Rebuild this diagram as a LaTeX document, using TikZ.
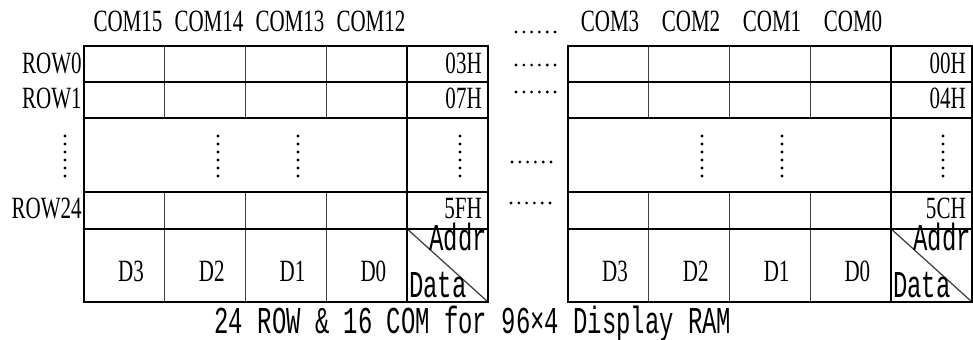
\documentclass[tikz,border=0pt]{standalone}
\usepackage{fontspec}
\usepackage{graphicx}
\setmainfont{Liberation Serif}
\newfontfamily\capfont{Liberation Mono}
\newcommand{\nar}[1]{\scalebox{0.68}[1]{#1}}
\newcommand{\cnar}[1]{\scalebox{0.63}[1]{#1}}

\begin{document}
\begin{tikzpicture}[x=0.025cm,y=-0.025cm,
    lab/.style={inner sep=0pt,anchor=base,text depth=0pt,font=\fontsize{22}{24}\selectfont},
    mono/.style={inner sep=0pt,anchor=base,font=\capfont\fontsize{27}{29}\selectfont},
    grid/.style={line width=0.9pt,black!75},
    frame/.style={line width=1.1pt}]
  \useasboundingbox (0,0) rectangle (973,340);

  \foreach \t/\x in {l/84,r/568}{
    \foreach \k in {1,2,3}{
      \draw[grid] (\x+80.8*\k,46) -- (\x+80.8*\k,118);
      \draw[grid] (\x+80.8*\k,192) -- (\x+80.8*\k,302);
    }
    \draw[grid] (\x+323.2,229) -- (\x+404,302);
    \draw[frame] (\x+323.2,46) -- (\x+323.2,302);
    \foreach \y in {82,118,192,229}
      \draw[frame] (\x,\y) -- (\x+404,\y);
    \draw[frame] (\x,46) rectangle (\x+404,302);
    \foreach \b/\k in {3/0,2/1,1/2,0/3}
      \node[lab] (d\b\t) at (\x+80.8*\k+47,282) {\nar{D\b}};
    \node[mono,anchor=base east,text height=16pt] (addr\t) at (\x+403,251) {\cnar{Addr}};
    \node[mono,anchor=base west] (data\t) at (\x+325,298) {\cnar{Data}};
  }

  \foreach \n/\x in {15/128,14/209,13/290,12/371,3/610,2/691,1/772,0/853}
    \node[lab] (com\n) at (\x,32) {\nar{COM\n}};
  \node[lab,anchor=base east] (row0) at (82,74) {\nar{ROW0}};
  \node[lab,anchor=base east] (row1) at (82,109) {\nar{ROW1}};
  \node[lab,anchor=base east] (row24) at (82,219) {\nar{ROW24}};
  \foreach \a/\x/\y in {03H/482/74,07H/482/109,5FH/482/219,00H/966/74,04H/966/109,5CH/966/219}
    \node[lab,anchor=base east] (a\a) at (\x,\y) {\nar{\a}};

  \foreach \x/\y in {516/32,516/65,516/92,512/162,511/203}
    \foreach \i in {0,...,5}
      \fill (\x+7.8*\i,\y) circle[radius=1.1pt];
  \foreach \x in {65,218,298,460,702,782,943}
    \foreach \i in {0,...,5}
      \fill (\x,136+8*\i) circle[radius=1.1pt];

  \node[mono] (title) at (473,333) {\cnar{24 ROW \& 16 COM for 96×4 Display RAM}};
\end{tikzpicture}
\end{document}
